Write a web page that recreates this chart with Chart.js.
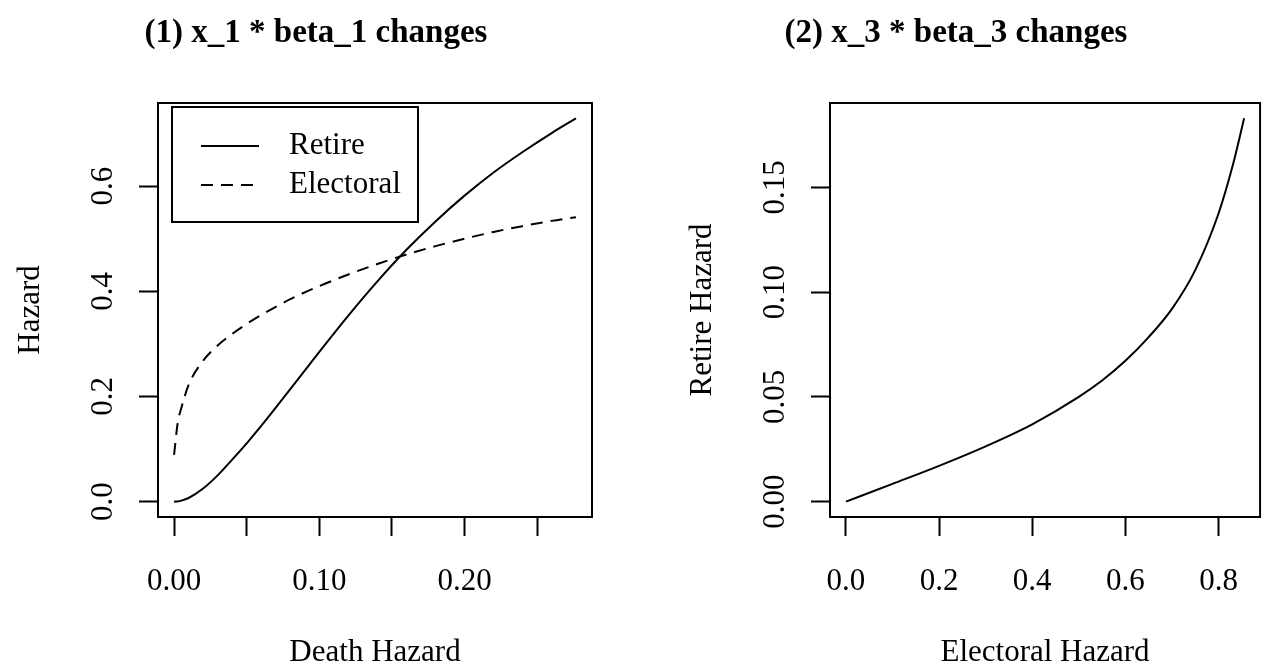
<!DOCTYPE html>
<html>
<head>
<meta charset="utf-8">
<script src="https://cdn.jsdelivr.net/npm/chart.js@4.4.1/dist/chart.umd.min.js"></script>
<style>
  body { margin: 0; background: #fff; }
  .panel { position: absolute; top: 0; height: 669px; }
</style>
</head>
<body>
<div class="panel" style="left:0;width:632px"><canvas id="deathChart" width="632" height="669"></canvas></div>
<div class="panel" style="left:632px;width:633px"><canvas id="electoralChart" width="633" height="669"></canvas></div>
<script>
// panel 1: hazards as the death hazard changes
const deathHazard = [0, 0.0025, 0.005, 0.01, 0.02, 0.03, 0.04, 0.05, 0.06, 0.08, 0.10, 0.12, 0.14, 0.16, 0.18, 0.20, 0.22, 0.24, 0.26, 0.2767];
const retireByDeath = [0, 0.0005, 0.002, 0.007, 0.025, 0.050, 0.080, 0.111, 0.144, 0.214, 0.285, 0.354, 0.419, 0.479, 0.533, 0.582, 0.626, 0.665, 0.701, 0.729];
const electoralByDeath = [0.089, 0.150, 0.178, 0.222, 0.268, 0.297, 0.319, 0.338, 0.355, 0.385, 0.410, 0.432, 0.452, 0.470, 0.486, 0.500, 0.513, 0.524, 0.534, 0.541];
const deathTicks = [0, 0.05, 0.10, 0.15, 0.20, 0.25];
const deathTickLabels = ['0.00', '', '0.10', '', '0.20', ''];
const hazardTicks = [0, 0.2, 0.4, 0.6];
const hazardTickLabels = ['0.0', '0.2', '0.4', '0.6'];

// panel 2: retire hazard as the electoral hazard changes
const electoralHazard = [0, 0.1, 0.2, 0.3, 0.4, 0.5, 0.55, 0.6, 0.65, 0.7, 0.75, 0.8, 0.83, 0.855];
const retireByElectoral = [0, 0.0085, 0.0171, 0.0264, 0.0369, 0.0500, 0.0578, 0.0672, 0.0785, 0.0920, 0.1105, 0.1375, 0.1600, 0.1829];
const electoralTicks = [0, 0.2, 0.4, 0.6, 0.8];
const electoralTickLabels = ['0.0', '0.2', '0.4', '0.6', '0.8'];
const retireTicks = [0, 0.05, 0.10, 0.15];
const retireTickLabels = ['0.00', '0.05', '0.10', '0.15'];

const FONT = '"Liberation Serif", "Times New Roman", serif';

// R style axis limits: data range plus 4% each side
function paddedRange(values) {
    const lo = Math.min(...values), hi = Math.max(...values);
    const pad = (hi - lo) * 0.04;
    return { min: lo - pad, max: hi + pad };
}

function points(xs, ys) {
    return xs.map((x, i) => ({ x: x, y: ys[i] }));
}

const rFrame = {
    id: 'rFrame',
    afterDraw(chart, args, opts) {
        const { ctx, chartArea: a } = chart;
        ctx.save();
        ctx.strokeStyle = '#000';
        ctx.lineWidth = 2;
        ctx.strokeRect(a.left, a.top, a.right - a.left, a.bottom - a.top);

        ctx.fillStyle = '#000';
        ctx.textAlign = 'center';
        ctx.textBaseline = 'middle';
        ctx.font = 'bold 33px ' + FONT;
        ctx.fillText(opts.title, opts.titleX, 33);

        // y tick labels read bottom to top, like R
        const y = chart.scales.y;
        ctx.font = '31px ' + FONT;
        y.ticks.forEach((t, i) => {
            ctx.save();
            ctx.translate(a.left - 54, y.getPixelForValue(t.value));
            ctx.rotate(-Math.PI / 2);
            ctx.fillText(opts.yLabels[i], 0, 0);
            ctx.restore();
        });

        if (opts.legend) {
            const L = opts.legend;
            ctx.lineWidth = 2;
            ctx.strokeRect(L.x, L.y, L.w, L.h);
            ctx.textAlign = 'left';
            chart.data.datasets.forEach((ds, i) => {
                const ly = L.y + L.first + i * L.step;
                ctx.beginPath();
                ctx.setLineDash(ds.borderDash || []);
                ctx.moveTo(L.x + 29, ly);
                ctx.lineTo(L.x + 87, ly);
                ctx.stroke();
                ctx.setLineDash([]);
                ctx.fillText(ds.label, L.x + 117, ly);
            });
        }
        ctx.restore();
    }
};

function makeAxis(range, ticks, labels, title, fit, x) {
    const axis = {
        type: 'linear',
        min: range.min,
        max: range.max,
        bounds: 'data',
        afterBuildTicks: s => { s.ticks = ticks.map(v => ({ value: v })); },
        grid: { drawOnChartArea: false, drawTicks: true, tickLength: 19, tickWidth: 2, tickColor: '#000' },
        border: { display: false },
        title: { display: true, text: title, color: '#000', font: { family: FONT, size: 31 } }
    };
    if (x) {
        axis.afterFit = s => { s.height = fit; };
        axis.ticks = {
            display: true, color: '#000', padding: 27, maxRotation: 0, autoSkip: false,
            font: { family: FONT, size: 31 },
            callback: (v, i) => labels[i]
        };
        axis.title.font.lineHeight = 1.05;
        axis.title.padding = { top: 0, bottom: 0 };
    } else {
        axis.afterFit = s => { s.width = fit; };
        axis.ticks = { display: false };
        axis.title.padding = { top: title === 'Hazard' ? 12 : 52, bottom: 0 };
    }
    return axis;
}

const baseLine = {
    borderColor: '#000',
    borderWidth: 2,
    pointRadius: 0,
    fill: false,
    cubicInterpolationMode: 'monotone'
};

new Chart(document.getElementById('deathChart'), {
    type: 'line',
    data: {
        datasets: [
            Object.assign({ label: 'Retire', data: points(deathHazard, retireByDeath) }, baseLine),
            Object.assign({ label: 'Electoral', data: points(deathHazard, electoralByDeath), borderDash: [12, 8] }, baseLine)
        ]
    },
    options: {
        responsive: false,
        animation: false,
        devicePixelRatio: 1,
        layout: { padding: { top: 103, right: 40, bottom: 0, left: 0 } },
        scales: {
            x: makeAxis(paddedRange(deathHazard), deathTicks, deathTickLabels, 'Death Hazard', 152, true),
            y: makeAxis(paddedRange(retireByDeath.concat(electoralByDeath)), hazardTicks, hazardTickLabels, 'Hazard', 158, false)
        },
        plugins: {
            legend: { display: false },
            tooltip: { enabled: false },
            rFrame: {
                title: '(1) x_1 * beta_1 changes',
                titleX: 316,
                yLabels: hazardTickLabels,
                legend: { x: 172, y: 107, w: 246, h: 115, first: 39, step: 39 }
            }
        }
    },
    plugins: [rFrame]
});

new Chart(document.getElementById('electoralChart'), {
    type: 'line',
    data: {
        datasets: [
            Object.assign({ label: 'Retire', data: points(electoralHazard, retireByElectoral) }, baseLine)
        ]
    },
    options: {
        responsive: false,
        animation: false,
        devicePixelRatio: 1,
        layout: { padding: { top: 103, right: 1, bottom: 0, left: 0 } },
        scales: {
            x: makeAxis(paddedRange(electoralHazard), electoralTicks, electoralTickLabels, 'Electoral Hazard', 152, true),
            y: makeAxis(paddedRange(retireByElectoral), retireTicks, retireTickLabels, 'Retire Hazard', 198, false)
        },
        plugins: {
            legend: { display: false },
            tooltip: { enabled: false },
            rFrame: {
                title: '(2) x_3 * beta_3 changes',
                titleX: 324,
                yLabels: retireTickLabels
            }
        }
    },
    plugins: [rFrame]
});
</script>
</body>
</html>
